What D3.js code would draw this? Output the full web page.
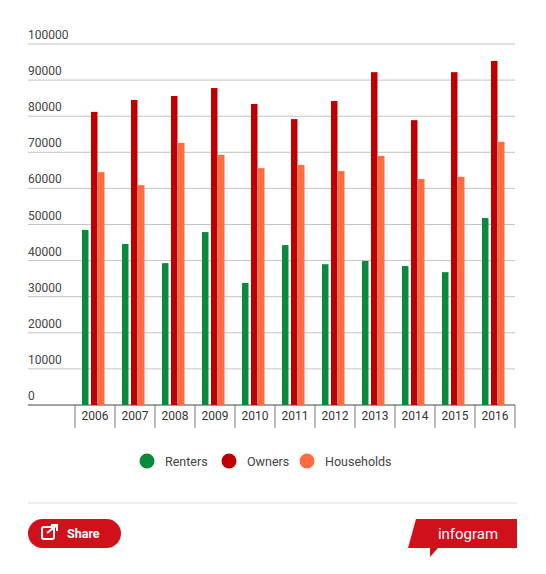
<!DOCTYPE html>
<html><head><meta charset="utf-8">
<script src="https://cdn.jsdelivr.net/npm/d3@7"></script>
<style>body{margin:0;background:#fff;font-family:Roboto,sans-serif}</style>
</head><body><div id="chart"></div>
<script>
var years=["2006","2007","2008","2009","2010","2011","2012","2013","2014","2015","2016"];
var renters=[48500,44600,39300,47900,33800,44300,39000,39900,38500,36800,51800];
var owners=[81200,84500,85600,87800,83400,79200,84200,92200,78900,92200,95300];
var households=[64500,60900,72600,69300,65600,66500,64800,69000,62600,63200,72900];
var seriesNames=["Renters","Owners","Households"];
var colors=["#0b8a3e","#c00000","#ff6c3e"];
var yTicks=[0,10000,20000,30000,40000,50000,60000,70000,80000,90000,100000];

var W=546,H=574;
var svg=d3.select("#chart").append("svg").attr("width",W).attr("height",H);
var x=d3.scaleBand().domain(years).range([75,515]);
var y=d3.scaleLinear().domain([0,100000]).range([405,44]);
var series=[renters,owners,households];

// grid
svg.selectAll(".grid").data(yTicks).enter().append("line")
  .attr("x1",28).attr("x2",515).attr("y1",d=>y(d)).attr("y2",d=>y(d))
  .attr("stroke",d=>d==0?"#444":"#999").attr("stroke-width",d=>d==0?1.2:0.6);
svg.selectAll(".ylab").data(yTicks).enter().append("text")
  .attr("x",28).attr("y",d=>y(d)-5).text(d=>d)
  .attr("font-size",12).attr("fill","#444");

// bars
var offs=[7,16,23];
series.forEach(function(s,k){
  svg.selectAll(".b"+k).data(s).enter().append("rect")
    .attr("x",(d,i)=>x(years[i])+offs[k]).attr("width",6.5)
    .attr("y",d=>y(d)).attr("height",d=>y(0)-y(d)).attr("fill",colors[k]);
});

// x axis ticks
var xa=svg.append("g");
years.concat(["end"]).forEach(function(yr,i){
  var px=75+i*x.bandwidth();
  xa.append("line").attr("x1",px).attr("x2",px).attr("y1",405).attr("y2",428).attr("stroke","#555").attr("stroke-width",0.8);
});
svg.selectAll(".xl").data(years).enter().append("text")
  .attr("x",d=>x(d)+x.bandwidth()/2).attr("y",420).attr("text-anchor","middle")
  .attr("font-size",12).attr("fill","#333").text(d=>d);

// legend
var lx=[147,229,307];
seriesNames.forEach(function(n,k){
  svg.append("circle").attr("cx",lx[k]).attr("cy",461).attr("r",7.5).attr("fill",colors[k]);
  svg.append("text").attr("x",lx[k]+18).attr("y",465.5).attr("font-size",12.5).attr("fill","#444").text(n);
});

svg.append("line").attr("x1",28).attr("x2",517).attr("y1",503).attr("y2",503).attr("stroke","#ddd");

// share button
svg.append("rect").attr("x",28).attr("y",519).attr("width",93).attr("height",29).attr("rx",14.5).attr("fill","#d0111b");
svg.append("rect").attr("x",42).attr("y",527).attr("width",12).attr("height",12).attr("rx",2).attr("fill","none").attr("stroke","#fff").attr("stroke-width",2);
svg.append("path").attr("d","M47,533 L56,526 M51,525 L57,525 L57,531").attr("stroke","#fff").attr("stroke-width",2).attr("fill","none");
svg.append("text").attr("x",67).attr("y",538).attr("font-size",12.5).attr("font-weight","bold").attr("fill","#fff").text("Share");

// infogram logo
svg.append("path").attr("d","M416,519 L517,519 L517,548 L438,548 L430,557 L430,548 L408,548 Z").attr("fill","#d0111b");
svg.append("text").attr("x",468).attr("y",539).attr("text-anchor","middle").attr("font-size",15).attr("fill","#fff").text("infogram");
</script></body></html>
